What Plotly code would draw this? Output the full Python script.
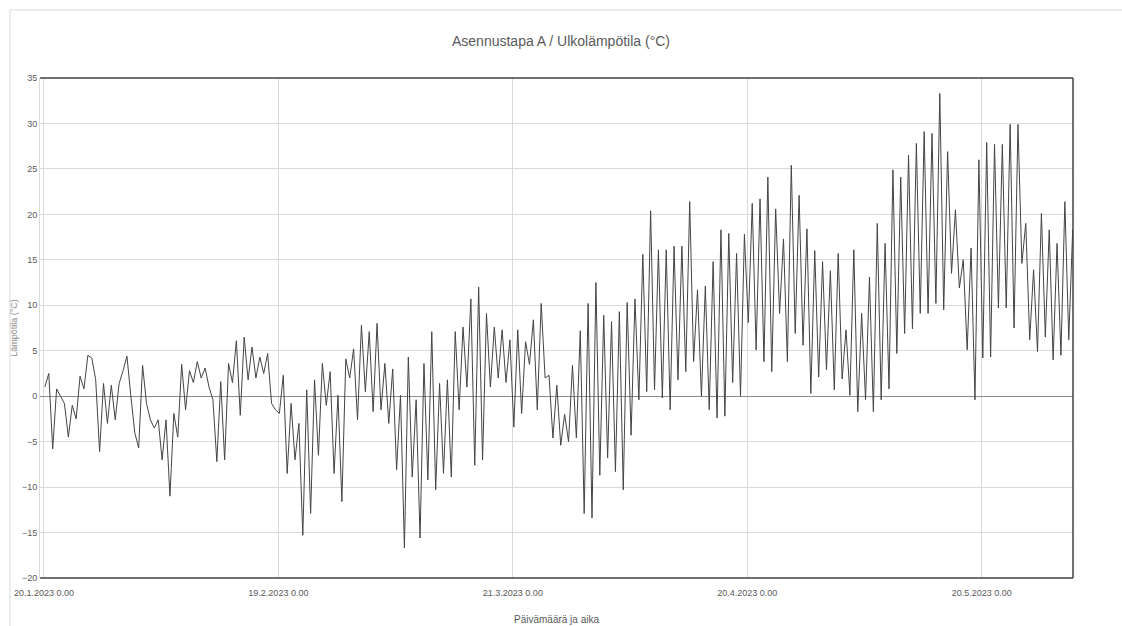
import pandas as pd
import plotly.graph_objects as go

# Outdoor temperature, two readings per day (approx. 03:00 and 15:00)
temperature = [
    1.0, 2.5, -5.8, 0.8, 0.0, -0.8, -4.5, -1.0, -2.5, 2.2,
    0.8, 4.5, 4.2, 1.8, -6.1, 1.4, -3.0, 1.2, -2.6, 1.4,
    2.8, 4.4, 0.0, -4.0, -5.7, 3.4, -0.8, -2.6, -3.5, -2.6,
    -7.0, -2.6, -11.0, -1.9, -4.5, 3.5, -1.5, 2.8, 1.5, 3.8,
    2.0, 3.1, 1.0, -0.4, -7.2, 1.6, -7.0, 3.6, 1.5, 6.1,
    -2.1, 6.5, 1.8, 5.4, 2.0, 4.3, 2.5, 4.7, -0.8, -1.5,
    -1.9, 2.3, -8.5, -0.8, -7.0, -3.0, -15.3, 0.7, -12.9, 1.8,
    -6.5, 3.6, -1.0, 2.7, -8.5, 0.1, -11.6, 4.1, 2.0, 5.2,
    -2.6, 7.8, 0.5, 7.1, -1.7, 8.0, -1.5, 3.6, -3.0, 3.0,
    -8.1, 0.1, -16.7, 4.3, -8.9, -0.4, -15.6, 3.6, -9.2, 7.1,
    -10.3, 1.4, -8.5, 1.8, -8.9, 7.1, -1.5, 7.6, 1.0, 10.7,
    -7.6, 12.0, -7.0, 9.1, 1.0, 7.6, 2.0, 7.3, 1.5, 6.2,
    -3.4, 7.3, -1.9, 6.0, 3.5, 8.4, -1.5, 10.2, 2.0, 2.3,
    -4.6, 1.2, -5.4, -2.0, -5.0, 3.4, -4.6, 7.2, -12.9, 10.2,
    -13.4, 12.5, -8.7, 8.9, -6.8, 8.2, -8.3, 9.3, -10.3, 10.3,
    -4.3, 10.7, -0.4, 15.6, 0.5, 20.4, 0.7, 16.1, -0.2, 16.1,
    -1.5, 16.5, 1.8, 16.5, 2.7, 21.4, 3.8, 11.7, 0.0, 12.1,
    -1.5, 14.8, -2.4, 18.3, -2.2, 17.9, 1.5, 15.7, 0.0, 17.8,
    8.1, 21.2, 5.1, 21.7, 3.8, 24.1, 2.7, 20.6, 9.1, 17.3,
    3.8, 25.4, 6.9, 22.1, 5.6, 18.4, 0.3, 16.0, 2.1, 14.8,
    2.9, 13.8, 0.7, 15.7, 1.9, 7.3, 0.1, 16.1, -1.7, 9.1,
    -0.4, 13.1, -1.7, 19.0, -0.4, 16.8, 0.8, 24.9, 4.7, 24.1,
    6.9, 26.5, 7.4, 27.8, 9.1, 29.1, 9.1, 28.9, 10.2, 33.3,
    9.5, 26.9, 13.5, 20.5, 11.9, 15.0, 5.1, 16.3, -0.4, 26.0,
    4.2, 27.9, 4.3, 27.7, 9.7, 27.7, 9.7, 29.9, 7.5, 29.9,
    14.6, 19.0, 6.2, 13.9, 4.9, 20.1, 6.5, 18.3, 4.0, 16.8,
    4.5, 21.4, 6.2, 18.3,
]
start_time = "2023-01-20 03:00"
tick_dates = ["2023-01-20", "2023-02-19", "2023-03-21", "2023-04-20", "2023-05-20"]
tick_labels = ["20.1.2023 0.00", "19.2.2023 0.00", "21.3.2023 0.00", "20.4.2023 0.00", "20.5.2023 0.00"]
y_ticks = list(range(-20, 36, 5))

times = pd.date_range(start_time, periods=len(temperature), freq="12h")

FONT = "Liberation Sans Narrow, Arial Narrow, Liberation Sans, sans-serif"
GREY = "#595959"

fig = go.Figure()
fig.add_trace(go.Scatter(
    x=times, y=temperature, mode="lines",
    line=dict(color="#444444", width=1),
    showlegend=False,
))

fig.update_layout(
    width=1122, height=626,
    margin=dict(l=40, r=49, t=78, b=48),
    paper_bgcolor="white", plot_bgcolor="white",
    font=dict(family=FONT, color=GREY),
    title=dict(text="Asennustapa A / Ulkolämpötila (°C)", x=0.5, xanchor="center",
               y=0.935, yanchor="middle", font=dict(size=14, color=GREY, family=FONT)),
    xaxis=dict(
        range=["2023-01-19 12:00", "2023-05-31 16:00"],
        tickmode="array", tickvals=tick_dates, ticktext=tick_labels,
        tickfont=dict(size=9, color=GREY), showgrid=True, gridcolor="#d9d9d9", gridwidth=1,
        zeroline=False, showline=False, ticks="", ticklabelstandoff=8,
        title=dict(text="Päivämäärä ja aika", font=dict(size=10, color=GREY), standoff=18),
        automargin=False,
    ),
    yaxis=dict(
        range=[-20, 35], tickmode="array", tickvals=y_ticks,
        tickfont=dict(size=9, color=GREY), showgrid=True, gridcolor="#d9d9d9", gridwidth=1,
        zeroline=True, zerolinecolor="#8c8c8c", zerolinewidth=1,
        showline=True, linecolor="#d9d9d9", linewidth=1, ticks="",
        title=dict(text="Lämpötila (°C)", font=dict(size=9, color="#8c8c8c"), standoff=2),
        automargin=False,
    ),
)

# Dark plot-area border (top, right, bottom)
for x0, y0, x1, y1 in [(0, 1, 1, 1), (1, 0, 1, 1), (0, 0, 1, 0)]:
    fig.add_shape(type="line", xref="paper", yref="paper", x0=x0, y0=y0, x1=x1, y1=y1,
                  line=dict(color="#404040", width=1.5))
# Light chart frame (left and top)
fig.add_shape(type="line", xref="paper", yref="paper", x0=-0.029, y0=1.136, x1=-0.029, y1=-0.12,
              line=dict(color="#d9d9d9", width=1))
fig.add_shape(type="line", xref="paper", yref="paper", x0=-0.029, y0=1.136, x1=1.05, y1=1.136,
              line=dict(color="#d9d9d9", width=1))

fig.write_html("out.html")
